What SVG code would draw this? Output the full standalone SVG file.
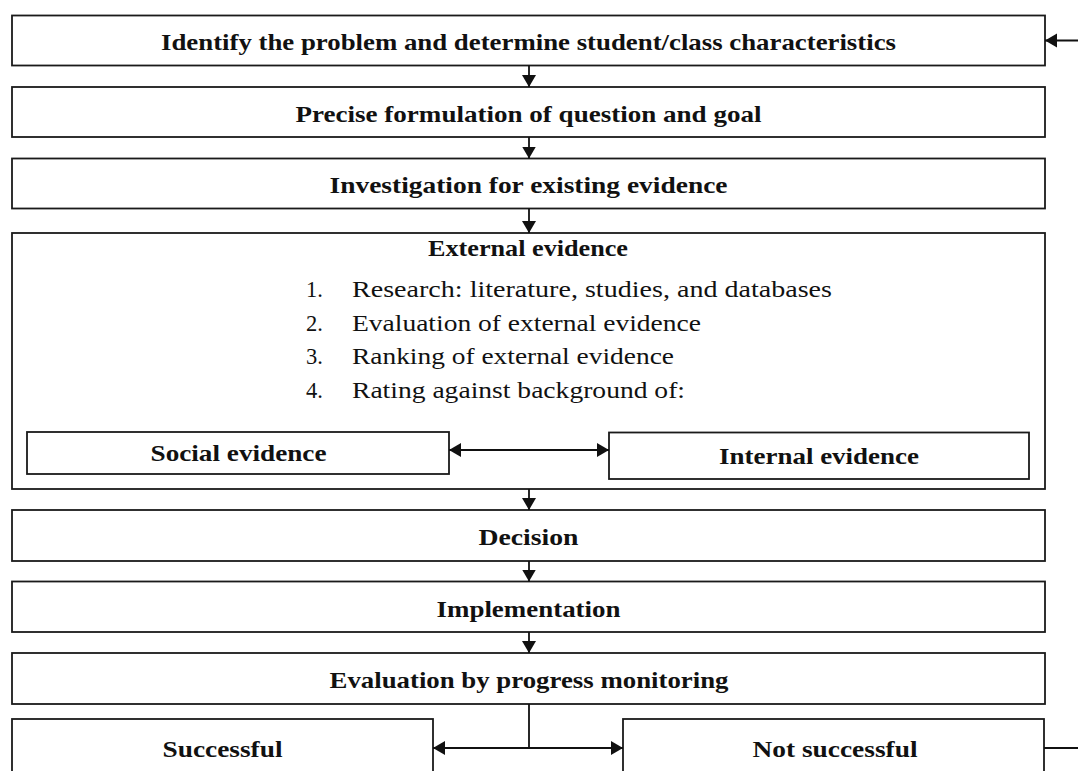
<svg xmlns="http://www.w3.org/2000/svg" width="1078" height="771" viewBox="0 0 1078 771">
<defs>
<marker id="ah" markerUnits="userSpaceOnUse" markerWidth="13" markerHeight="15" refX="12" refY="7.5" orient="auto-start-reverse">
<path d="M0,0.5 L12,7.5 L0,14.5 z" fill="#111"/>
</marker>
<style>
.box{fill:#fff;stroke:#1a1a1a;stroke-width:1.8}
.t{font-family:"Liberation Serif","Times New Roman",serif;font-weight:bold;font-size:23.5px;fill:#111;text-anchor:middle}
.r{font-family:"Liberation Serif","Times New Roman",serif;font-size:22.5px;fill:#111}
.c{fill:none;stroke:#111;stroke-width:1.8}
</style>
</defs>
<rect width="1078" height="771" fill="#fff"/>
<g id="n1"><rect class="box" x="12" y="15.5" width="1033" height="50"/>
<text class="t" x="528.5" y="50" textLength="735" lengthAdjust="spacingAndGlyphs">Identify the problem and determine student/class characteristics</text></g>
<g id="n2"><rect class="box" x="12" y="87" width="1033" height="50"/>
<text class="t" x="528.5" y="121.5" textLength="466" lengthAdjust="spacingAndGlyphs">Precise formulation of question and goal</text></g>
<g id="n3"><rect class="box" x="12" y="158.5" width="1033" height="50"/>
<text class="t" x="528.5" y="193" textLength="398" lengthAdjust="spacingAndGlyphs">Investigation for existing evidence</text></g>
<g id="n4"><rect class="box" x="12" y="233" width="1033" height="256"/>
<text class="t" x="528" y="256" textLength="200" lengthAdjust="spacingAndGlyphs">External evidence</text>
<text class="r" x="306" y="297">1.</text><text class="r" x="352" y="297" textLength="480" lengthAdjust="spacingAndGlyphs">Research: literature, studies, and databases</text>
<text class="r" x="306" y="330.5">2.</text><text class="r" x="352" y="330.5" textLength="349" lengthAdjust="spacingAndGlyphs">Evaluation of external evidence</text>
<text class="r" x="306" y="364">3.</text><text class="r" x="352" y="364" textLength="322" lengthAdjust="spacingAndGlyphs">Ranking of external evidence</text>
<text class="r" x="306" y="397.5">4.</text><text class="r" x="352" y="397.5" textLength="333" lengthAdjust="spacingAndGlyphs">Rating against background of:</text>
</g>
<g id="n5"><rect class="box" x="27" y="432" width="422" height="42"/>
<text class="t" x="238.5" y="461" textLength="176" lengthAdjust="spacingAndGlyphs">Social evidence</text></g>
<g id="n6"><rect class="box" x="609" y="432.5" width="420" height="46.5"/>
<text class="t" x="819" y="464" textLength="200" lengthAdjust="spacingAndGlyphs">Internal evidence</text></g>
<g id="n7"><rect class="box" x="12" y="510" width="1033" height="51"/>
<text class="t" x="528.5" y="545" textLength="100" lengthAdjust="spacingAndGlyphs">Decision</text></g>
<g id="n8"><rect class="box" x="12" y="581.5" width="1033" height="50.5"/>
<text class="t" x="528.5" y="616.5" textLength="184" lengthAdjust="spacingAndGlyphs">Implementation</text></g>
<g id="n9"><rect class="box" x="12" y="653" width="1033" height="51"/>
<text class="t" x="529" y="688" textLength="399" lengthAdjust="spacingAndGlyphs">Evaluation by progress monitoring</text></g>
<g id="n10"><rect class="box" x="12" y="719" width="421" height="70"/>
<text class="t" x="222.5" y="757" textLength="120" lengthAdjust="spacingAndGlyphs">Successful</text></g>
<g id="n11"><rect class="box" x="623" y="719" width="421" height="70"/>
<text class="t" x="835" y="757" textLength="165" lengthAdjust="spacingAndGlyphs">Not successful</text></g>
<g id="connectors">
<line class="c" x1="529" y1="65.5" x2="529" y2="87" marker-end="url(#ah)"/>
<line class="c" x1="529" y1="137" x2="529" y2="158.5" marker-end="url(#ah)"/>
<line class="c" x1="529" y1="208.5" x2="529" y2="233" marker-end="url(#ah)"/>
<line class="c" x1="529" y1="489" x2="529" y2="510" marker-end="url(#ah)"/>
<line class="c" x1="529" y1="561" x2="529" y2="581.5" marker-end="url(#ah)"/>
<line class="c" x1="529" y1="632" x2="529" y2="653" marker-end="url(#ah)"/>
<line class="c" x1="449" y1="450" x2="609" y2="450" marker-start="url(#ah)" marker-end="url(#ah)"/>
<line class="c" x1="529" y1="704" x2="529" y2="748"/>
<line class="c" x1="433" y1="748" x2="623" y2="748" marker-start="url(#ah)" marker-end="url(#ah)"/>
<line class="c" x1="1044" y1="748" x2="1078" y2="748"/>
<line class="c" x1="1078" y1="40.5" x2="1045" y2="40.5" marker-end="url(#ah)"/>
</g>
</svg>
